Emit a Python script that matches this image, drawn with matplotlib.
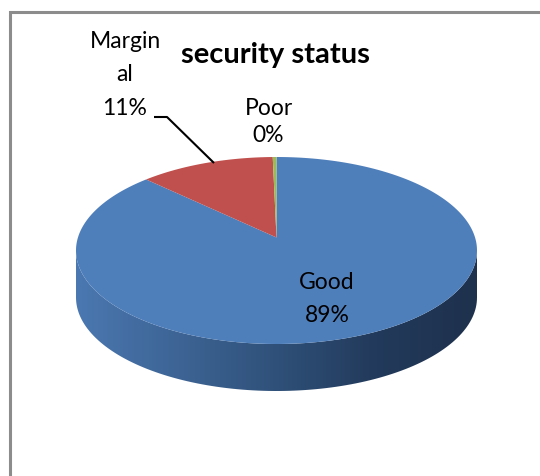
import numpy as np
import matplotlib
matplotlib.use('Agg')
import matplotlib.pyplot as plt
import matplotlib.patches as mpatches
from matplotlib.colors import LinearSegmentedColormap

plt.rcParams['font.family'] = ['Lato', 'DejaVu Sans']

# data
categories = ['Good', 'Marginal', 'Poor']
values = [89, 11, 0.3]
colors = ['#4f7fbb', '#c0504d', '#9bbb59']
title = 'security status'

# layout (pixel coords, y down)
cx, cy = 276.5, 250.5      # ellipse centre
rx, ry = 200.5, 93.5       # ellipse radii
apex_dy = -13              # perspective shift of the apex
depth = 47                 # thickness of the pie

fig = plt.figure(figsize=(5.4, 4.76), dpi=100)
ax = fig.add_axes([0, 0, 1, 1])
ax.set_xlim(0, 540)
ax.set_ylim(476, 0)
ax.axis('off')


def rim(theta_deg, dy=0):
    t = np.radians(theta_deg)
    return np.column_stack([cx + rx * np.cos(t), cy + dy + ry * np.sin(t)])


# side of the pie (front half), horizontal gradient
top_arc = rim(np.linspace(0, 180, 120))
bot_arc = rim(np.linspace(180, 0, 120), dy=depth)
side_pts = np.vstack([top_arc, bot_arc])
side = mpatches.Polygon(side_pts, closed=True, facecolor='none', edgecolor='none')
ax.add_patch(side)
side_cmap = LinearSegmentedColormap.from_list(
    'side', [(0, '#4b78b1'), (0.45, '#32557f'), (0.75, '#223a5b'), (1.0, '#1e314d')])
grad = np.linspace(0, 1, 256).reshape(1, -1)
img = ax.imshow(grad, cmap=side_cmap, aspect='auto',
                extent=[cx - rx, cx + rx, cy + depth + ry + 2, cy - 2], zorder=1)
img.set_clip_path(side)

# top surface, clockwise from 12 o'clock
total = sum(values)
start = 270.0
for v, c in zip(values, colors):
    span = 360.0 * v / total
    arc = rim(np.linspace(start, start + span, max(int(span * 2), 4)))
    pts = np.vstack([[cx, cy + apex_dy], arc])
    ax.add_patch(mpatches.Polygon(pts, closed=True, facecolor=c, edgecolor='none', zorder=2))
    start += span

pct = [round(100 * v / total) for v in values]
fs = 16.5

# labels
ax.text(275, 63, title, ha='center', va='baseline', fontsize=21, fontweight='bold', color='black')
ax.text(327, 289, categories[0], ha='center', va='baseline', fontsize=fs)
ax.text(327, 322, '{}%'.format(pct[0]), ha='center', va='baseline', fontsize=fs)
ax.text(125, 48, categories[1][:6], ha='center', va='baseline', fontsize=fs)
ax.text(125, 81, categories[1][6:], ha='center', va='baseline', fontsize=fs)
ax.text(125, 115, '{}%'.format(pct[1]), ha='center', va='baseline', fontsize=fs)
ax.text(269, 115, categories[2], ha='center', va='baseline', fontsize=fs)
ax.text(268, 142, '{}%'.format(pct[2]), ha='center', va='baseline', fontsize=fs)

# leader line for Marginal
ax.plot([154, 167, 214], [117, 117, 163], color='black', lw=1.5, zorder=3,
        solid_capstyle='butt')

# chart frame (only top and left edges visible)
ax.plot([9.5, 9.5, 540], [476, 11.5, 11.5], color='#8c8c8c', lw=2.2,
        solid_joinstyle='miter', zorder=4)

fig.savefig('out.png', dpi=100)
